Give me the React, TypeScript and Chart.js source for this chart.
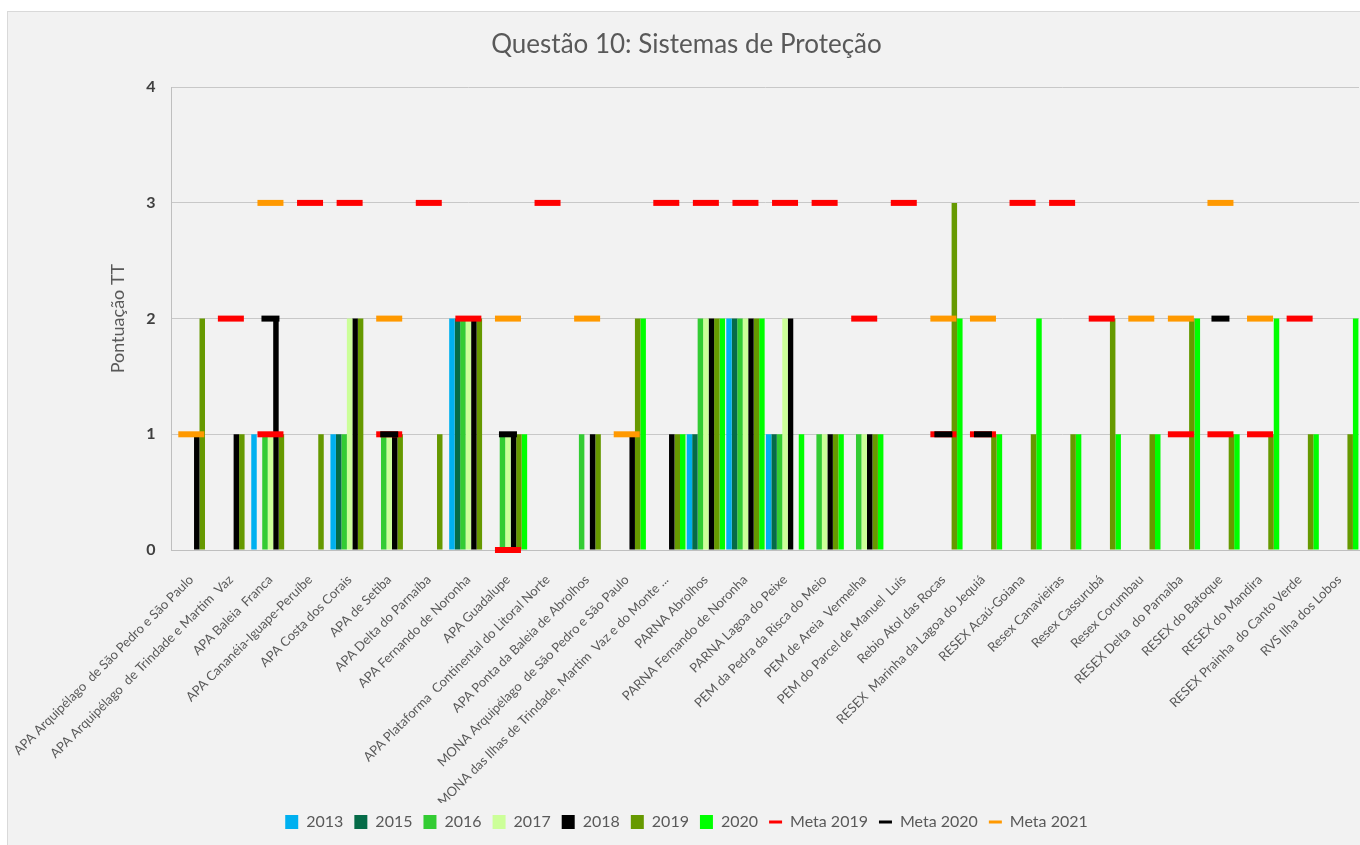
import React, { useEffect, useRef } from "react";
import { Chart, registerables } from "chart.js";

Chart.register(...registerables);

const categories = [
  "APA Arquipélago  de São Pedro e São Paulo",
  "APA Arquipélago  de Trindade e Martim  Vaz",
  "APA Baleia  Franca",
  "APA Cananéia-Iguape-Peruíbe",
  "APA Costa dos Corais",
  "APA de Setiba",
  "APA Delta do Parnaíba",
  "APA Fernando de Noronha",
  "APA Guadalupe",
  "APA Plataforma  Continental do Litoral Norte",
  "APA Ponta da Baleia de Abrolhos",
  "MONA Arquipélago  de São Pedro e São Paulo",
  "MONA das Ilhas de Trindade, Martim  Vaz e do Monte ...",
  "PARNA Abrolhos",
  "PARNA Fernando de Noronha",
  "PARNA Lagoa do Peixe",
  "PEM da Pedra da Risca do Meio",
  "PEM de Areia  Vermelha",
  "PEM do Parcel de Manuel  Luís",
  "Rebio Atol das Rocas",
  "RESEX  Marinha da Lagoa do Jequiá",
  "RESEX Acaú-Goiana",
  "Resex Canavieiras",
  "Resex Cassurubá",
  "Resex Corumbau",
  "RESEX Delta  do Parnaíba",
  "RESEX do Batoque",
  "RESEX do Mandira",
  "RESEX Prainha  do Canto Verde",
  "RVS Ilha dos Lobos",
];

const n = null;
const y2013 = [n, n, 1, n, 1, n, n, 2, n, n, n, n, n, 1, 2, 1, n, n, n, n, n, n, n, n, n, n, n, n, n, n];
const y2015 = [n, n, n, n, 1, n, n, 2, n, n, n, n, n, 1, 2, 1, n, n, n, n, n, n, n, n, n, n, n, n, n, n];
const y2016 = [n, n, 1, n, 1, 1, n, 2, 1, n, 1, n, n, 2, 2, 1, 1, 1, n, n, n, n, n, n, n, n, n, n, n, n];
const y2017 = [n, n, 1, n, 2, 1, n, 2, 1, n, n, n, n, 2, 2, 2, 1, 1, n, n, n, n, n, n, n, n, n, n, n, n];
const y2018 = [1, 1, 2, n, 2, 1, n, 2, 1, n, 1, 1, 1, 2, 2, 2, 1, 1, n, n, n, n, n, n, n, n, n, n, n, n];
const y2019 = [2, 1, 1, 1, 2, 1, 1, 2, 1, n, 1, 2, 1, 2, 2, n, 1, 1, n, 3, 1, 1, 1, 2, 1, 2, 1, 1, 1, 1];
const y2020 = [n, n, n, n, n, n, n, n, 1, n, n, 2, 1, 2, 2, 1, 1, 1, n, 2, 1, 2, 1, 1, 1, 2, 1, 2, 1, 2];
const meta2019 = [n, 2, 1, 3, 3, 1, 3, 2, 0, 3, n, n, 3, 3, 3, 3, 3, 2, 3, 1, 1, 3, 3, 2, n, 1, 1, 1, 2, n];
const meta2020 = [n, n, 2, n, n, 1, n, n, 1, n, n, n, n, n, n, n, n, n, n, 1, 1, n, n, n, n, n, 2, n, n, n];
const meta2021 = [1, n, 3, n, n, 2, n, n, 2, n, 2, 1, n, n, n, n, n, n, n, 2, 2, n, n, n, 2, 2, 3, 2, n, n];

const yTicks = [0, 1, 2, 3, 4];

const FONT = "Lato, 'Open Sans', sans-serif";

export default function App() {
  const ref = useRef<HTMLCanvasElement>(null);

  useEffect(() => {
    if (!ref.current) return;
    const bar = (label: string, data: (number | null)[], color: string) => ({
      type: "bar" as const,
      label,
      data,
      backgroundColor: color,
      borderWidth: 0,
      order: 3,
      barPercentage: 1,
      categoryPercentage: 0.97,
    });
    const meta = (label: string, data: (number | null)[], color: string, radius: number, order: number) => ({
      type: "line" as const,
      label,
      data,
      showLine: false,
      borderColor: color,
      backgroundColor: color,
      pointStyle: "line",
      pointRadius: radius,
      pointHoverRadius: radius,
      pointBorderWidth: 6,
      pointBorderColor: color,
      pointBackgroundColor: color,
      clip: false,
      order,
    });

    const chart = new Chart(ref.current, {
      type: "bar",
      data: {
        labels: categories,
        datasets: [
          bar("2013", y2013, "#00B0F0"),
          bar("2015", y2015, "#056B48"),
          bar("2016", y2016, "#33CC33"),
          bar("2017", y2017, "#CCFF99"),
          bar("2018", y2018, "#000000"),
          bar("2019", y2019, "#669900"),
          bar("2020", y2020, "#00FF00"),
          meta("Meta 2019", meta2019, "#FF0000", 13, 1),
          meta("Meta 2020", meta2020, "#000000", 9, 0),
          meta("Meta 2021", meta2021, "#FF9900", 13, 2),
        ] as any,
      },
      options: {
        animation: false,
        responsive: false,
        devicePixelRatio: 1,
        layout: { padding: { left: 0, right: 13, top: 0, bottom: 22 } },
        plugins: {
          tooltip: { enabled: false },
          title: {
            display: true,
            text: "Questão 10: Sistemas de Proteção",
            color: "#595959",
            font: { family: FONT, size: 26, weight: "normal" },
            padding: { top: 17, bottom: 27 },
          },
          legend: {
            position: "bottom",
            labels: {
              usePointStyle: true,
              pointStyleWidth: 13,
              boxHeight: 14,
              padding: 11,
              color: "#595959",
              font: { family: FONT, size: 16 },
              sort: (a: any, b: any) => a.datasetIndex - b.datasetIndex,
              generateLabels: (c: any) => {
                const items = (Chart.defaults.plugins.legend.labels as any).generateLabels(c);
                return items.map((it: any) => {
                  const ds = c.data.datasets[it.datasetIndex];
                  if (ds.type === "line") {
                    return { ...it, pointStyle: "line", strokeStyle: ds.borderColor, fillStyle: ds.borderColor, lineWidth: 3 };
                  }
                  return { ...it, pointStyle: "rect", fillStyle: ds.backgroundColor, lineWidth: 0 };
                });
              },
            },
          },
        },
        scales: {
          x: {
            grid: { display: false, drawTicks: false },
            border: { display: true, color: "#BFBFBF", width: 1 },
            ticks: {
              autoSkip: false,
              maxRotation: 45,
              minRotation: 45,
              padding: 22,
              color: "#595959",
              font: { family: FONT, size: 13 },
            },
            afterFit: (s: any) => {
              s.height = 253;
              s.paddingLeft = 0;
              s.paddingRight = 0;
            },
          },
          y: {
            min: 0,
            max: 4,
            afterBuildTicks: (s: any) => {
              s.ticks = yTicks.map((v) => ({ value: v }));
            },
            grid: { color: "#C8C8C8", drawTicks: false, lineWidth: 1 },
            border: { display: true, color: "#BFBFBF", width: 1 },
            ticks: {
              padding: 16,
              color: "#404040",
              font: { family: FONT, size: 16, weight: "bold" },
            },
            title: {
              display: true,
              text: "Pontuação TT",
              color: "#595959",
              font: { family: FONT, size: 18, weight: "normal" },
              padding: { top: 99, bottom: 0 },
            },
            afterFit: (s: any) => {
              s.width = 163.5;
            },
          },
        },
      } as any,
    });
    return () => chart.destroy();
  }, []);

  return (
    <div style={{ position: "fixed", left: 0, top: 0, width: 1360, height: 845, overflow: "hidden", background: "#ffffff" }}>
      <div
        style={{
          position: "absolute",
          left: 7,
          top: 11,
          width: 1400,
          height: 900,
          border: "1px solid #D9D9D9",
          background: "#F2F2F2",
          boxSizing: "border-box",
        }}
      >
        <canvas ref={ref} width={1370} height={850} style={{ position: "absolute", left: 0, top: 0, width: 1370, height: 850 }} />
      </div>
    </div>
  );
}
